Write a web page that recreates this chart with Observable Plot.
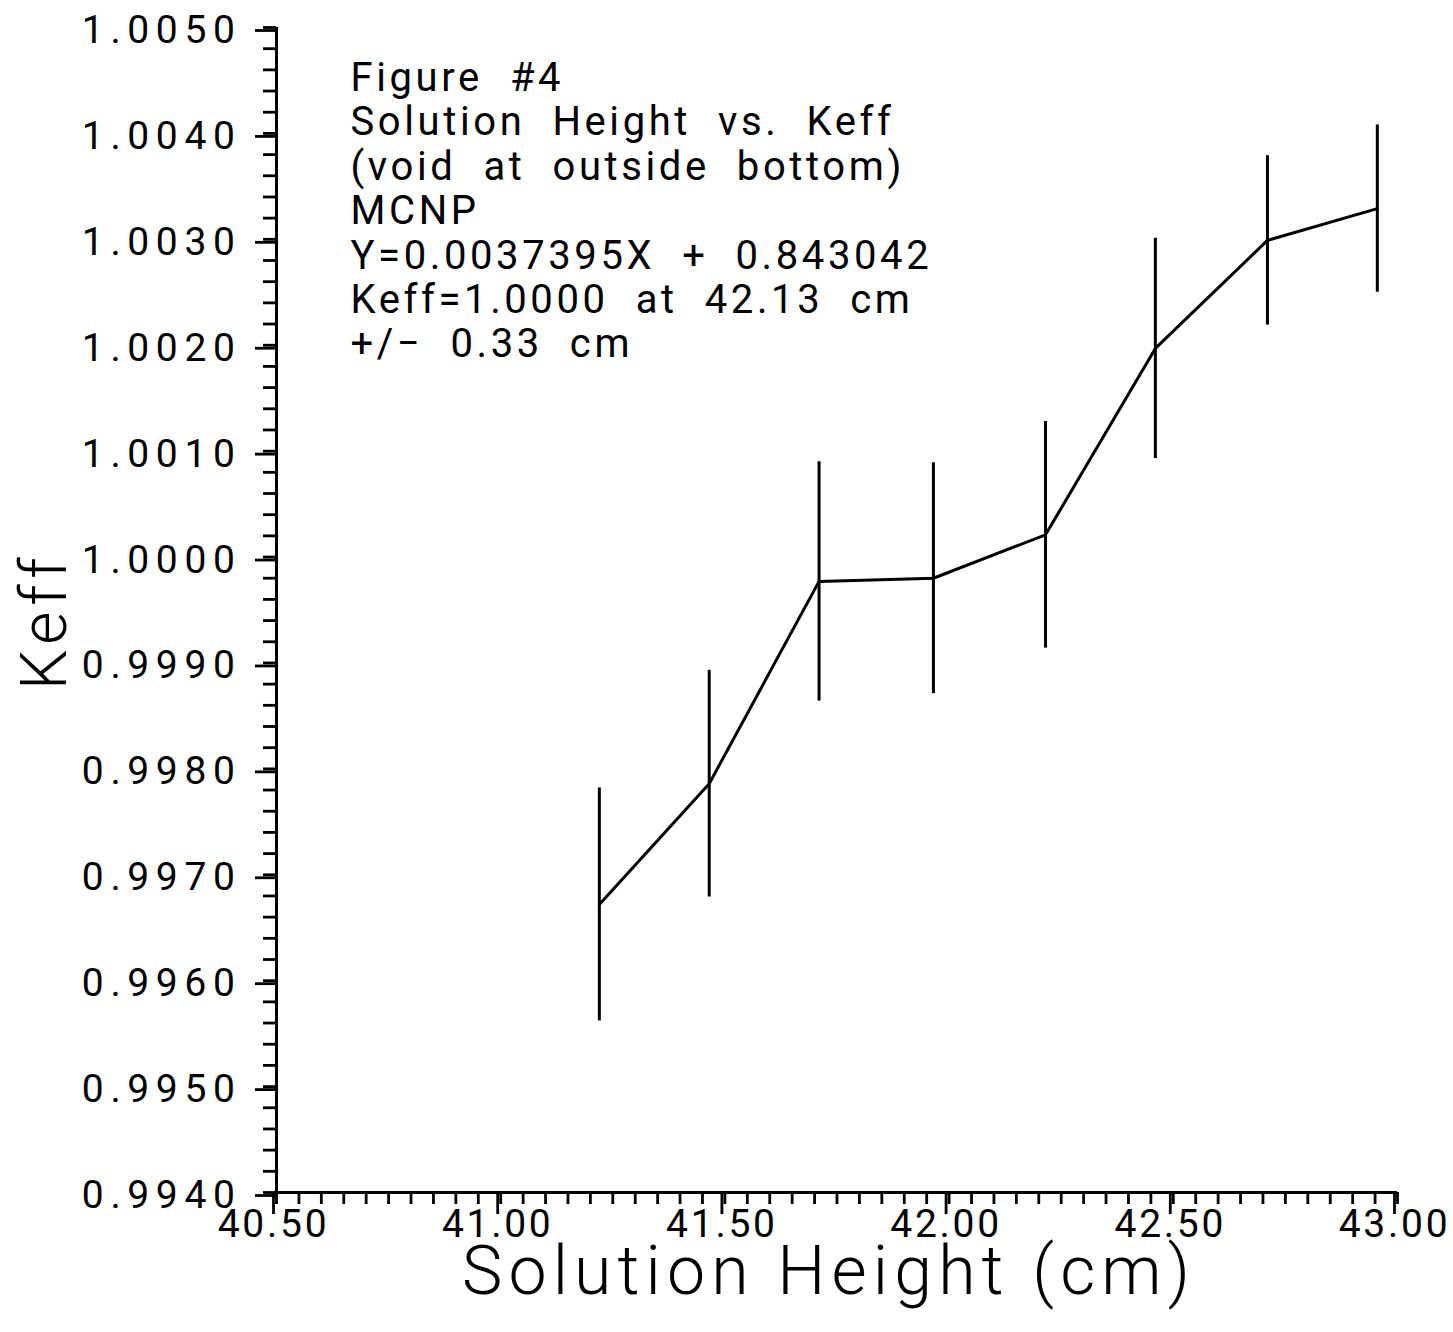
<!DOCTYPE html>
<html>
<head>
<meta charset="utf-8">
<script src="https://cdn.jsdelivr.net/npm/d3@7"></script>
<script src="https://cdn.jsdelivr.net/npm/@observablehq/plot@0.6"></script>
<style>
  html, body { margin: 0; padding: 0; background: #fff; }
  #chart svg text { font-family: Roboto, "Open Sans", sans-serif; font-weight: 400; letter-spacing: 0.17em; }
  #chart svg .xlabels text { letter-spacing: 0.07em; }
  #chart svg .title text { font-weight: 300; letter-spacing: 0.09em; }
  #chart svg .notes text { letter-spacing: 0.09em; }
</style>
</head>
<body>
<div id="chart"></div>
<script>
// MCNP Keff results versus solution height, with 1-sigma error bars
const heights = [41.22, 41.465, 41.71, 41.965, 42.215, 42.46, 42.71, 42.955];
const keffs   = [0.99672, 0.99786, 0.99977, 0.99980, 1.00021, 1.00197, 1.00299, 1.00329];
const sigmas  = [0.00110, 0.00107, 0.00113, 0.00109, 0.00107, 0.00104, 0.00080, 0.00079];

// axis ticks
const xMajor = [40.5, 41.0, 41.5, 42.0, 42.5, 43.0];
const xMinor = d3.range(0, 51).map(i => 40.5 + i * 0.05);
const yMajor = d3.range(0, 12).map(i => 0.994 + i * 0.001);
const yMinor = d3.range(0, 56).map(i => 0.994 + i * 0.0002);

const notes = [
  "Figure  #4",
  "Solution  Height  vs.  Keff",
  "(void  at  outside  bottom)",
  "MCNP",
  "Y=0.0037395X  +  0.843042",
  "Keff=1.0000  at  42.13  cm",
  "+/−  0.33  cm"
];

const rows = heights.map((h, i) => ({h, k: keffs[i], s: sigmas[i]}));

const chart = Plot.plot({
  width: 1453,
  height: 1332,
  marginLeft: 276,
  marginRight: 56,
  marginTop: 27,
  marginBottom: 140,
  x: {domain: [40.5, 43.0], label: null},
  y: {domain: [0.994, 1.005], label: null},
  marks: [
    // minor ticks
    Plot.axisX(xMinor, {tickSize: 12, tickFormat: () => "", strokeWidth: 2.8}),
    Plot.axisY(yMinor, {tickSize: 13, tickFormat: () => "", strokeWidth: 2.8}),
    // major ticks with labels
    Plot.axisX(xMajor, {className: "xlabels", tickSize: 22, tickPadding: -5, tickFormat: d3.format(".2f"), fontSize: 39, strokeWidth: 2.8, dx: -3, color: "#000"}),
    Plot.axisY(yMajor, {tickSize: 21, tickPadding: 14, tickFormat: d3.format(".4f"), fontSize: 39, strokeWidth: 2.8, dy: 3, color: "#000"}),
    // axis lines
    Plot.ruleX([40.5], {stroke: "#000", strokeWidth: 3}),
    Plot.ruleY([0.994], {stroke: "#000", strokeWidth: 3}),
    // error bars
    Plot.ruleX(rows, {x: "h", y1: d => d.k - d.s, y2: d => d.k + d.s, stroke: "#000", strokeWidth: 3}),
    // connecting line
    Plot.line(rows, {x: "h", y: "k", stroke: "#000", strokeWidth: 3}),
    // annotation block
    Plot.text([notes.join("\n")], {className: "notes", frameAnchor: "top-left", dx: 74, dy: 32, lineAnchor: "top", lineHeight: 1.11, textAnchor: "start", fontSize: 40, fill: "#000"}),
    // axis titles
    Plot.text(["Solution Height (cm)"], {className: "title", frameAnchor: "bottom", dx: -8, dy: 53, lineAnchor: "top", fontSize: 68, fill: "#000"}),
    Plot.text(["Keff"], {className: "title", frameAnchor: "left", dx: -231, dy: 80, rotate: -90, fontSize: 64, fill: "#000"})
  ]
});

document.getElementById("chart").appendChild(chart);
</script>
</body>
</html>
